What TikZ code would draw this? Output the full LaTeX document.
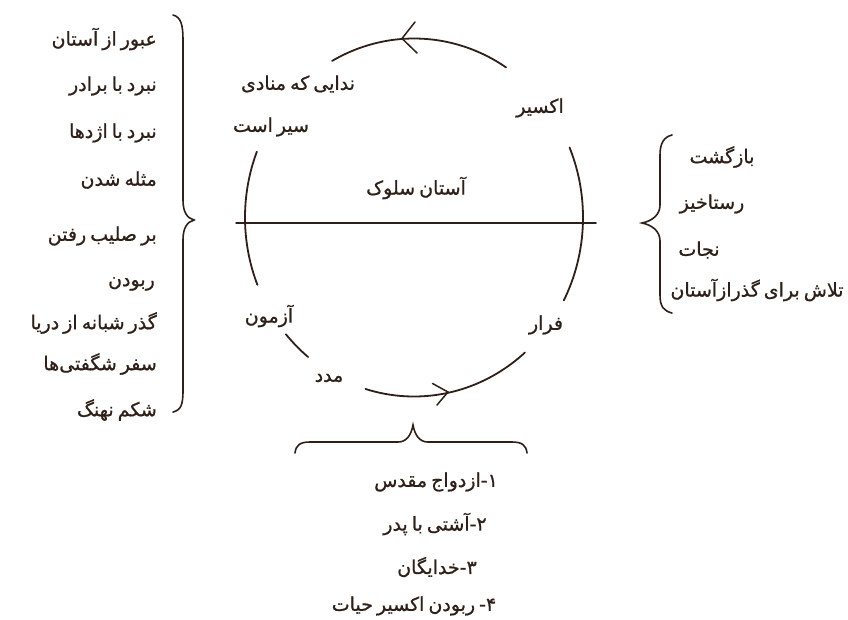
\documentclass[tikz,border=0pt]{standalone}
\usepackage{fontspec}
\TeXXeTstate=1
\newfontfamily\arabicfont[Script=Arabic,FakeBold=0.8]{DejaVu Sans}
\definecolor{ink}{HTML}{2E2018}
\newcommand{\arfont}{\arabicfont\fontsize{19}{22}\selectfont\spaceskip 4pt plus 1pt\relax}
\tikzset{
  lbl/.style={inner sep=0pt, text=ink, font=\arfont},
  ln/.style={draw=ink, line width=1.8pt, line cap=round},
  brc/.style={draw=ink, line width=1.6pt, line cap=round},
}
\newcommand{\numb}[1]{\hbox{-}\hbox{#1}}
\begin{document}
\begin{tikzpicture}[x=1pt,y=-1pt]
\useasboundingbox[fill=white] (0,0) rectangle (848,619);

% circle arcs
\draw[ln, domain=57:119, samples=60, smooth, variable=\t] plot ({414+169*cos(\t)},{217.5-179*sin(\t)});
\draw[ln, domain=-27.6:23, samples=40, smooth, variable=\t] plot ({414+169*cos(\t)},{217.5-179*sin(\t)});
\draw[ln, domain=-106.7:-49, samples=50, smooth, variable=\t] plot ({414+169*cos(\t)},{217.5-179*sin(\t)});
\draw[ln, domain=-139.3:-128.8, samples=10, smooth, variable=\t] plot ({414+169*cos(\t)},{217.5-179*sin(\t)});
\draw[ln, domain=158.4:202.1, samples=40, smooth, variable=\t] plot ({414+169*cos(\t)},{217.5-179*sin(\t)});

% arrow heads
\coordinate (ta) at (402,38.5);
\draw[ln, line width=1.5pt] (415,22) -- (ta) -- (417,53);
\coordinate (ba) at (448,392);
\draw[ln, line width=1.5pt] (432.5,383.5) -- (ba) -- (437,405);

% horizontal line
\coordinate (hl) at (236,223);
\coordinate (hr) at (596,223);
\draw[ln, line width=1.5pt] (hl) -- (hr);

% braces
\draw[brc] (173,15) .. controls (181,17) and (183,25) .. (183,40) -- (183,200)
  .. controls (183,212) and (187,218) .. (194,220)
  .. controls (187,222) and (183,228) .. (183,240) -- (183,390)
  .. controls (183,405) and (181,410) .. (173,412);
\draw[brc] (672,135) .. controls (664,137) and (660,143) .. (660,155) -- (660,205)
  .. controls (660,215) and (652,221) .. (642,223)
  .. controls (652,225) and (660,231) .. (660,241) -- (660,295)
  .. controls (660,307) and (664,311) .. (672,313);
\draw[brc] (295,453) .. controls (296,445) and (300,442) .. (310,442) -- (398,442)
  .. controls (406,442) and (411,436) .. (413,425)
  .. controls (415,436) and (420,442) .. (428,442) -- (512,442)
  .. controls (522,442) and (526,445) .. (527,453);

% left column
\node[lbl, anchor=east] (l1) at (157,39) {\beginR عبور از آستان\endR};
\node[lbl, anchor=east] (l2) at (157,86) {\beginR نبرد با برادر\endR};
\node[lbl, anchor=east] (l3) at (157,133) {\beginR نبرد با اژدها\endR};
\node[lbl, anchor=east] (l4) at (157,180) {\beginR مثله شدن\endR};
\node[lbl, anchor=east] (l5) at (157,236) {\beginR بر صلیب رفتن\endR};
\node[lbl, anchor=east] (l6) at (155,284) {\beginR ربودن\endR};
\node[lbl, anchor=east] (l7) at (157,323) {\beginR گذر شبانه از دریا\endR};
\node[lbl, anchor=east] (l8) at (157,364) {\beginR سفر شگفتی‌ها\endR};
\node[lbl, anchor=east] (l9) at (157,410) {\beginR شکم نهنگ\endR};

% right column
\node[lbl] (r1) at (722,157) {\beginR بازگشت\endR};
\node[lbl] (r2) at (712,204) {\beginR رستاخیز\endR};
\node[lbl] (r3) at (699,250) {\beginR نجات\endR};
\node[lbl] (r4) at (757,290) {\beginR تلاش برای گذرازآستان\endR};

% circle labels
\node[lbl] (c1) at (298,84) {\beginR ندایی که منادی\endR};
\node[lbl] (c2) at (271,127) {\beginR سیر است\endR};
\node[lbl] (c3) at (540,108) {\beginR اکسیر\endR};
\node[lbl] (c4) at (416,188) {\beginR آستان سلوک\endR};
\node[lbl] (c5) at (269,316) {\beginR آزمون\endR};
\node[lbl] (c6) at (546,325) {\beginR فرار\endR};
\node[lbl] (c7) at (329,378) {\beginR مدد\endR};

% bottom list
\node[lbl] (b1) at (436,482) {\beginR ازدواج مقدس\endR\numb{۱}};
\node[lbl] (b2) at (435,524) {\beginR آشتی با پدر\endR\numb{۲}};
\node[lbl] (b3) at (437,567) {\beginR خدایگان\endR\numb{۳}};
\node[lbl] (b4) at (414,606) {\beginR ربودن اکسیر حیات\endR\hspace{4pt}\numb{۴}};
\end{tikzpicture}
\end{document}
